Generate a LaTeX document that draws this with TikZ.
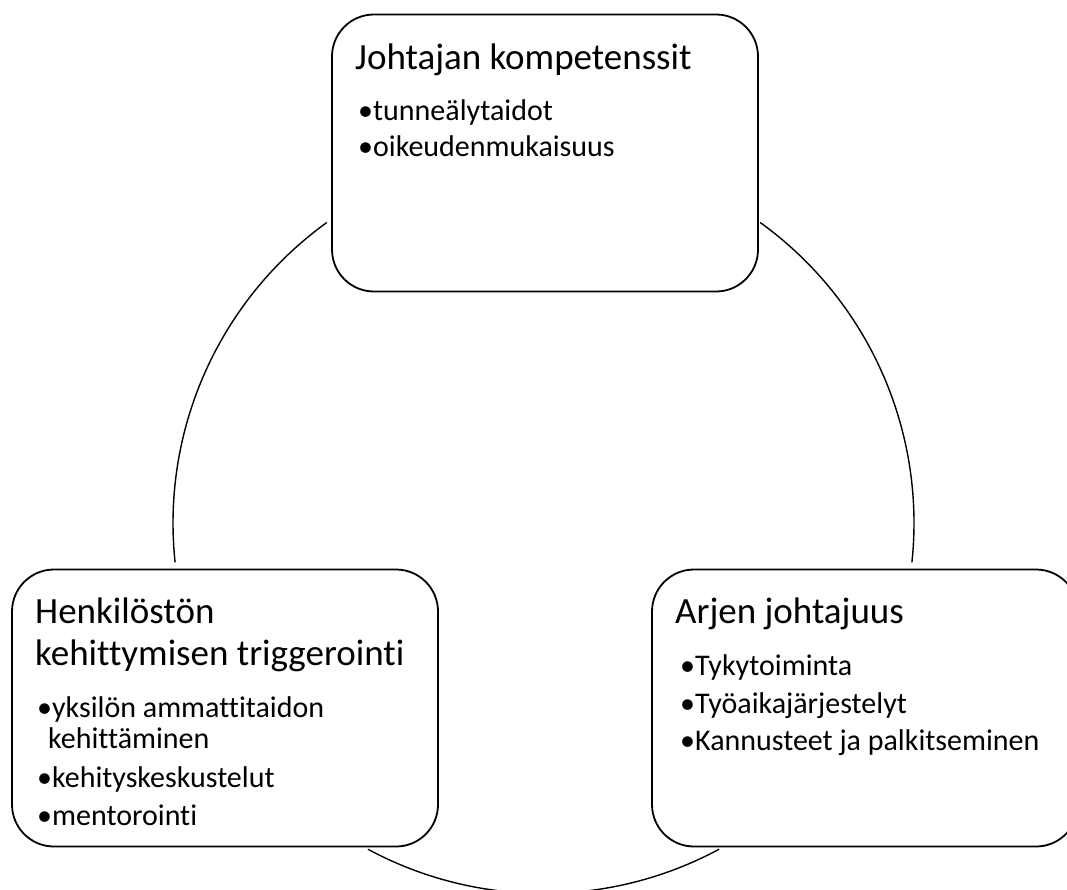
\documentclass[tikz,border=0pt]{standalone}
\usepackage{fontspec}
\setmainfont{Carlito}[Ligatures=CommonOff]
\tikzstyle{box} = [draw=black, line width=1.8pt, rounded corners=42pt, minimum width=426pt, minimum height=277pt, inner sep=0pt]
\tikzstyle{head} = [anchor=base west, inner sep=0pt, font=\fontsize{37}{42}\selectfont]
\tikzstyle{item} = [anchor=base west, inner sep=0pt, font=\fontsize{30}{31}\selectfont]
\tikzstyle{ring} = [line width=1.4pt]

\begin{document}
\begin{tikzpicture}[x=1pt,y=1pt]
\clip (0,0) rectangle (1067,-889);
\coordinate (ctr) at (543.5,-523);
%Cycle
\draw[ring] (ctr) ++(125.8:370.5) arc[start angle=125.8, end angle=186.1, radius=370.5];
\draw[ring] (ctr) ++(241.7:370.5) arc[start angle=241.7, end angle=298.3, radius=370.5];
\draw[ring] (ctr) ++(-6.1:370.5) arc[start angle=-6.1, end angle=54.2, radius=370.5];

%Top
\node[box] (komp) at (545,-153) {};
\node[head] (j0) at (355,-69) {Johtajan kompetenssit};
\node[item] (j1) at (358,-120) {•tunneälytaidot};
\node[item] (j2) at (358,-156) {•oikeudenmukaisuus};

%Left
\node[box] (henk) at (225,-708) {};
\node[head] (h0) at (35,-623) {Henkilöstön};
\node[head] (h1) at (35,-665) {kehittymisen triggerointi};
\node[item] (h2) at (37,-717) {•yksilön ammattitaidon};
\node[item] (h3) at (48,-748) {kehittäminen};
\node[item] (h4) at (37,-787) {•kehityskeskustelut};
\node[item] (h5) at (37,-825) {•mentorointi};

%Right
\node[box] (arki) at (865,-708) {};
\node[head] (a0) at (675,-623) {Arjen johtajuus};
\node[item] (a1) at (680,-675) {•Tykytoiminta};
\node[item] (a2) at (680,-713) {•Työaikajärjestelyt};
\node[item] (a3) at (680,-750) {•Kannusteet ja palkitseminen};
\end{tikzpicture}
\end{document}
